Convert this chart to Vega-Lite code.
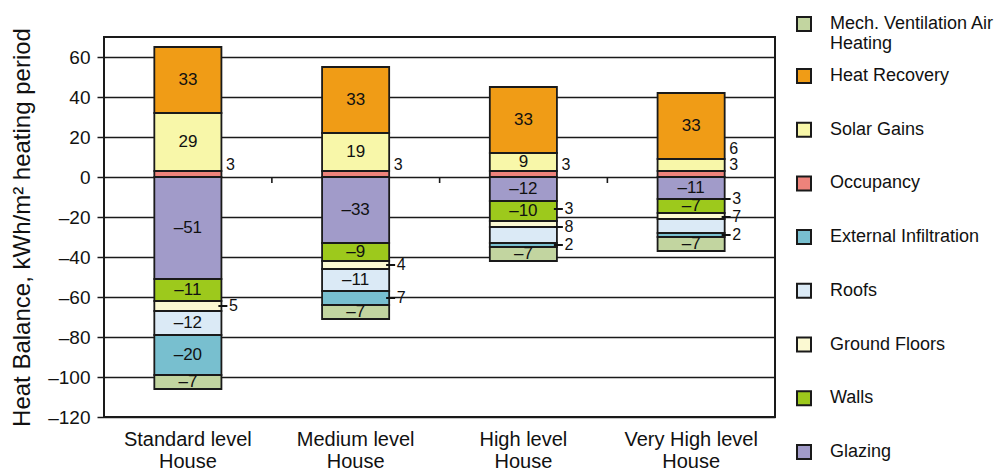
{
  "$schema": "https://vega.github.io/schema/vega-lite/v6.json",
  "autosize": {"type": "none"},
  "padding": {"left": 104, "top": 37, "right": 228, "bottom": 53},
  "width": 671,
  "height": 380,
  "background": "white",
  "data": {
    "values": [
      {"house": "Standard level House", "component": "Heat Recovery", "value": 33},
      {"house": "Standard level House", "component": "Solar Gains", "value": 29},
      {"house": "Standard level House", "component": "Occupancy", "value": 3},
      {"house": "Standard level House", "component": "Glazing", "value": -51},
      {"house": "Standard level House", "component": "Walls", "value": -11},
      {"house": "Standard level House", "component": "Ground Floors", "value": -5},
      {"house": "Standard level House", "component": "Roofs", "value": -12},
      {"house": "Standard level House", "component": "External Infiltration", "value": -20},
      {"house": "Standard level House", "component": "Mech. Ventilation Air Heating", "value": -7},
      {"house": "Medium level House", "component": "Heat Recovery", "value": 33},
      {"house": "Medium level House", "component": "Solar Gains", "value": 19},
      {"house": "Medium level House", "component": "Occupancy", "value": 3},
      {"house": "Medium level House", "component": "Glazing", "value": -33},
      {"house": "Medium level House", "component": "Walls", "value": -9},
      {"house": "Medium level House", "component": "Ground Floors", "value": -4},
      {"house": "Medium level House", "component": "Roofs", "value": -11},
      {"house": "Medium level House", "component": "External Infiltration", "value": -7},
      {"house": "Medium level House", "component": "Mech. Ventilation Air Heating", "value": -7},
      {"house": "High level House", "component": "Heat Recovery", "value": 33},
      {"house": "High level House", "component": "Solar Gains", "value": 9},
      {"house": "High level House", "component": "Occupancy", "value": 3},
      {"house": "High level House", "component": "Glazing", "value": -12},
      {"house": "High level House", "component": "Walls", "value": -10},
      {"house": "High level House", "component": "Ground Floors", "value": -3},
      {"house": "High level House", "component": "Roofs", "value": -8},
      {"house": "High level House", "component": "External Infiltration", "value": -2},
      {"house": "High level House", "component": "Mech. Ventilation Air Heating", "value": -7},
      {"house": "Very High level House", "component": "Heat Recovery", "value": 33},
      {"house": "Very High level House", "component": "Solar Gains", "value": 6},
      {"house": "Very High level House", "component": "Occupancy", "value": 3},
      {"house": "Very High level House", "component": "Glazing", "value": -11},
      {"house": "Very High level House", "component": "Walls", "value": -7},
      {"house": "Very High level House", "component": "Ground Floors", "value": -3},
      {"house": "Very High level House", "component": "Roofs", "value": -7},
      {"house": "Very High level House", "component": "External Infiltration", "value": -2},
      {"house": "Very High level House", "component": "Mech. Ventilation Air Heating", "value": -7}
    ]
  },
  "transform": [
    {"calculate": "indexof(['Occupancy', 'Solar Gains', 'Heat Recovery', 'Glazing', 'Walls', 'Ground Floors', 'Roofs', 'External Infiltration', 'Mech. Ventilation Air Heating'], datum.component)", "as": "ord"},
    {"stack": "value", "groupby": ["house"], "sort": [{"field": "ord", "order": "ascending"}], "as": ["y0", "y1"]},
    {"calculate": "(datum.y0 + datum.y1) / 2", "as": "mid"},
    {"calculate": "abs(datum.value) >= 9 || datum.component == 'Walls' || datum.component == 'Mech. Ventilation Air Heating'", "as": "inside"},
    {"calculate": "abs(datum.value)", "as": "absval"},
    {"calculate": "datum.value < 0 ? '–' + abs(datum.value) : '' + datum.value", "as": "lab"}
  ],
  "resolve": {"scale": {"color": "independent"}},
  "layer": [
    {
      "transform": [{"filter": "datum.component != 'Mech. Ventilation Air Heating'"}],
      "mark": {"type": "bar", "stroke": "#1a1a1a", "strokeWidth": 1.8},
      "encoding": {
        "x": {
          "field": "house",
          "type": "nominal",
          "sort": ["Standard level House", "Medium level House", "High level House", "Very High level House"],
          "scale": {"paddingInner": 0.6, "paddingOuter": 0.3},
          "axis": {
            "title": null,
            "labelExpr": "[replace(datum.label, ' House', ''), 'House']",
            "labelFontSize": 20,
            "labelLineHeight": 22,
            "labelPadding": 12,
            "labelAngle": 0,
            "labelLimit": 300,
            "labelColor": "#111",
            "ticks": false,
            "domain": false
          }
        },
        "y": {
          "field": "y0",
          "type": "quantitative",
          "scale": {"domain": [-120, 70], "nice": false, "zero": false},
          "axis": {
            "title": "Heat Balance, kWh/m² heating period",
            "values": [-120, -100, -80, -60, -40, -20, 0, 20, 40, 60],
            "labelExpr": "datum.value < 0 ? '–' + abs(datum.value) : datum.label",
            "domain": false,
            "grid": true,
            "gridColor": "#1a1a1a",
            "gridWidth": 1.6,
            "gridOpacity": 1,
            "tickSize": 7,
            "tickColor": "#1a1a1a",
            "tickWidth": 1.5,
            "labelPadding": 7,
            "labelFontSize": 19,
            "labelColor": "#111",
            "titleFontSize": 24,
            "titleFontWeight": "normal",
            "titleColor": "#111",
            "titlePadding": 13
          }
        },
        "y2": {"field": "y1"},
        "color": {
          "field": "component",
          "type": "nominal",
          "scale": {
            "domain": ["Heat Recovery", "Solar Gains", "Occupancy", "External Infiltration", "Roofs", "Ground Floors", "Walls", "Glazing"],
            "range": ["#f09c16", "#f8f7a9", "#ee837b", "#78bfcf", "#dbeaf6", "#fbf9d2", "#9dc91c", "#a19bc9"]
          },
          "legend": {
            "title": null,
            "orient": "none",
            "legendX": 691,
            "legendY": 30,
            "padding": 0,
            "symbolType": "square",
            "symbolSize": 196,
            "symbolStrokeColor": "#1a1a1a",
            "symbolStrokeWidth": 2,
            "symbolOpacity": 1,
            "labelFontSize": 18,
            "labelColor": "#111",
            "labelOffset": 17,
            "labelLimit": 220,
            "rowPadding": 31.7
          }
        }
      }
    },
    {
      "transform": [{"filter": "datum.component == 'Mech. Ventilation Air Heating'"}],
      "mark": {"type": "bar", "stroke": "#1a1a1a", "strokeWidth": 1.8},
      "encoding": {
        "x": {
          "field": "house",
          "type": "nominal",
          "sort": ["Standard level House", "Medium level House", "High level House", "Very High level House"]
        },
        "y": {"field": "y0", "type": "quantitative"},
        "y2": {"field": "y1"},
        "color": {
          "field": "component",
          "type": "nominal",
          "scale": {"domain": ["Mech. Ventilation Air Heating"], "range": ["#c2d5a0"]},
          "legend": {
            "title": null,
            "orient": "none",
            "legendX": 691,
            "legendY": -22,
            "padding": 0,
            "symbolType": "square",
            "symbolSize": 196,
            "symbolStrokeColor": "#1a1a1a",
            "symbolStrokeWidth": 2,
            "symbolOpacity": 1,
            "labelFontSize": 18,
            "labelColor": "#111",
            "labelOffset": 17,
            "labelLimit": 220,
            "labelExpr": "['Mech. Ventilation Air', 'Heating']"
          }
        }
      }
    },
    {
      "transform": [{"filter": "datum.component == 'Occupancy' && datum.house != 'Very High level House'"}],
      "mark": {"type": "tick", "orient": "vertical", "xOffset": 84, "yOffset": 3, "size": 6, "thickness": 1.6, "color": "#1a1a1a", "opacity": 1},
      "encoding": {
        "x": {
          "field": "house",
          "type": "nominal",
          "sort": ["Standard level House", "Medium level House", "High level House", "Very High level House"]
        },
        "y": {"datum": 0, "type": "quantitative"}
      }
    },
    {
      "transform": [{"filter": "datum.inside"}],
      "mark": {"type": "text", "fontSize": 17, "color": "#111", "align": "center", "baseline": "middle"},
      "encoding": {
        "x": {
          "field": "house",
          "type": "nominal",
          "sort": ["Standard level House", "Medium level House", "High level House", "Very High level House"]
        },
        "y": {"field": "mid", "type": "quantitative"},
        "text": {"field": "lab", "type": "nominal"}
      }
    },
    {
      "transform": [
        {"filter": "!datum.inside && datum.value > 0"},
        {
          "window": [
            {"op": "rank", "as": "r"},
            {"op": "first_value", "field": "y1", "as": "firsttop"}
          ],
          "groupby": ["house"],
          "sort": [{"field": "ord", "order": "ascending"}],
          "frame": [null, null]
        },
        {"calculate": "max(datum.y1 + 3, datum.firsttop + 3 + 8 * (datum.r - 1))", "as": "ly"}
      ],
      "mark": {"type": "text", "fontSize": 16, "color": "#111", "align": "left", "baseline": "middle", "dx": 38},
      "encoding": {
        "x": {
          "field": "house",
          "type": "nominal",
          "sort": ["Standard level House", "Medium level House", "High level House", "Very High level House"]
        },
        "y": {"field": "ly", "type": "quantitative"},
        "text": {"field": "value", "type": "quantitative"}
      }
    },
    {
      "transform": [
        {"filter": "!datum.inside && datum.value < 0"},
        {
          "window": [
            {"op": "rank", "as": "r"},
            {"op": "first_value", "field": "mid", "as": "firstmid"}
          ],
          "groupby": ["house"],
          "sort": [{"field": "ord", "order": "descending"}],
          "frame": [null, null]
        },
        {"calculate": "max(datum.mid, datum.firstmid + 9 * (datum.r - 1))", "as": "ly"}
      ],
      "layer": [
        {
          "mark": {"type": "text", "fontSize": 16, "color": "#111", "align": "left", "baseline": "middle", "dx": 41},
          "encoding": {
            "x": {
              "field": "house",
              "type": "nominal",
              "sort": ["Standard level House", "Medium level House", "High level House", "Very High level House"]
            },
            "y": {"field": "ly", "type": "quantitative"},
            "text": {"field": "absval", "type": "quantitative"}
          }
        },
        {
          "mark": {"type": "tick", "xOffset": 35, "size": 9, "thickness": 2, "color": "#111", "opacity": 1},
          "encoding": {
            "x": {
              "field": "house",
              "type": "nominal",
              "sort": ["Standard level House", "Medium level House", "High level House", "Very High level House"]
            },
            "y": {"field": "ly", "type": "quantitative"}
          }
        }
      ]
    }
  ],
  "config": {
    "font": "Liberation Sans",
    "view": {"stroke": "#1a1a1a", "strokeWidth": 2}
  }
}
